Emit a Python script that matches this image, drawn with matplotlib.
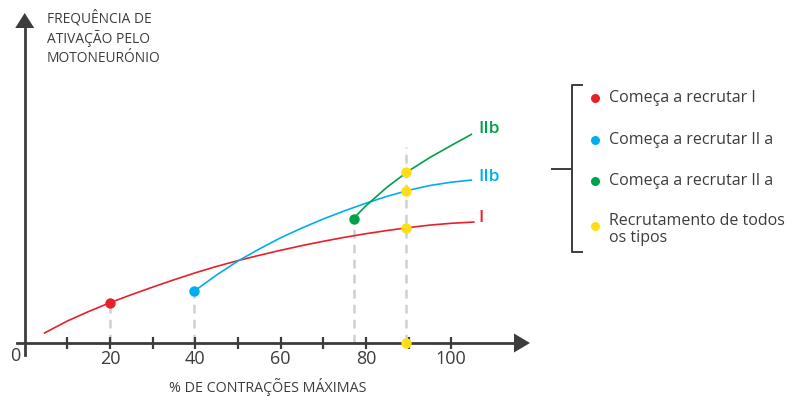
import matplotlib
matplotlib.use("Agg")
import matplotlib.pyplot as plt

plt.rcParams['font.family'] = ['Open Sans', 'DejaVu Sans']

# ---- data ----
red_x = [4.5, 10, 15, 20, 25, 30, 35, 40, 45, 50, 55, 60, 65, 70, 75, 80, 85, 90, 95, 100, 105.5]
red_y = [0.97, 2.2, 3.15, 4.03, 4.83, 5.59, 6.32, 7.02, 7.66, 8.24, 8.77, 9.27, 9.74, 10.17,
         10.57, 10.93, 11.25, 11.54, 11.79, 11.97, 12.1]
blue_x = [39.8, 45, 50, 55, 60, 65, 70, 75, 80, 85, 90, 95, 100, 104.9]
blue_y = [5.2, 6.8, 8.2, 9.4, 10.52, 11.5, 12.4, 13.22, 13.98, 14.67, 15.27, 15.75, 16.08, 16.3]
green_x = [77.1, 80, 85, 90, 95, 100, 104.9]
green_y = [12.45, 13.72, 15.6, 17.2, 18.55, 19.75, 20.9]

start_red = (20, 4.03)
start_blue = (39.8, 5.2)
start_green = (77.1, 12.45)
all_x = 89.5
all_y = [17.05, 15.24, 11.5, 0.0]
guide_top_all = 19.6

xticks = [10, 20, 30, 40, 50, 60, 70, 80, 90, 100]
xticklabels = ['', '20', '', '40', '', '60', '', '80', '', '100']

legend_labels = ['Começa a recrutar I', 'Começa a recrutar II a',
                 'Começa a recrutar II a', 'Recrutamento de todos\nos tipos']
curve_labels = ['IIb', 'IIb', 'I']

RED = '#e8202a'
BLUE = '#00aeef'
GREEN = '#00a14b'
YELLOW = '#ffde17'
AX = '#3c3c3c'
TXT = '#3c3c3c'
GUIDE = '#d0d0d0'

W, H = 790, 396
fig = plt.figure(figsize=(W / 100, H / 100), dpi=100)
ax = fig.add_axes([0, 0, 1, 1])
# pixel mapping: x = (px - 24.7)/4.265 ; y = (343 - py)/10
X0, XS = 24.7, 4.265
Y0, YS = 343.0, 10.0
ax.set_xlim((0 - X0) / XS, (W - X0) / XS)
ax.set_ylim((Y0 - H) / YS, (Y0 - 0) / YS)

def px(x):
    return (x - X0) / XS

def py(y):
    return (Y0 - y) / YS

# spines as axes
for s in ['top', 'right']:
    ax.spines[s].set_visible(False)
ax.spines['bottom'].set_position(('data', 0))
ax.spines['left'].set_position(('data', 0))
ax.spines['bottom'].set_bounds(px(16.5), px(518))
ax.spines['left'].set_bounds(py(355), py(20))
for s in ['bottom', 'left']:
    ax.spines[s].set_color(AX)
    ax.spines[s].set_linewidth(2.0)
ax.set_yticks([])
ax.set_xticks(xticks)
ax.set_xticklabels(xticklabels)
ax.tick_params(axis='x', direction='inout', length=8, width=1.6, color=AX,
               labelsize=13, labelcolor=TXT, pad=1)
ax.text(px(15), py(356), '0', ha='center', va='center', fontsize=13, color=TXT)

# arrow heads
ax.fill([px(530), px(514), px(514)], [0, py(333.5), py(352.5)], color=AX, lw=0, zorder=5)
ax.fill([0, px(24.7 - 9.5), px(24.7 + 9.5)], [py(13), py(28), py(28)], color=AX, lw=0, zorder=5)

# guides
gkw = dict(color=GUIDE, lw=1.8, dashes=(3.5, 2.5), zorder=1)
ax.plot([start_red[0]] * 2, [0, start_red[1]], **gkw)
ax.plot([start_blue[0]] * 2, [0, start_blue[1]], **gkw)
ax.plot([start_green[0]] * 2, [0, start_green[1]], **gkw)
ax.plot([all_x] * 2, [0, guide_top_all], **gkw)

# curves
ckw = dict(lw=1.2, zorder=3, solid_capstyle='butt', solid_joinstyle='round')
ax.plot(red_x, red_y, color=RED, **ckw)
ax.plot(blue_x, blue_y, color=BLUE, **ckw)
ax.plot(green_x, green_y, color=GREEN, **ckw)

mk = dict(ms=7.5, zorder=6, mew=0)
ax.plot(*start_red, 'o', color=RED, **mk)
ax.plot(*start_blue, 'o', color=BLUE, **mk)
ax.plot(*start_green, 'o', color=GREEN, **mk)
ax.plot([all_x] * len(all_y), all_y, 'o', color=YELLOW, ls='none', **mk)

# curve labels
lkw = dict(fontsize=12.5, fontweight='semibold', va='center', ha='left')
ax.text(px(478), py(129), curve_labels[0], color=GREEN, **lkw)
ax.text(px(478), py(177), curve_labels[1], color=BLUE, **lkw)
ax.text(px(478), py(218), curve_labels[2], color=RED, **lkw)

# axis titles
ax.text(px(47), py(10), 'FREQUÊNCIA DE\nATIVAÇÃO PELO\nMOTONEURÓNIO', ha='left', va='top',
        fontsize=9.9, color=TXT, linespacing=1.3)
ax.text(px(268), py(387), '% DE CONTRAÇÕES MÁXIMAS', ha='center', va='center',
        fontsize=10.3, color=TXT)

# legend bracket
bkw = dict(color=AX, lw=1.4, solid_capstyle='butt')
ax.plot([px(582.5), px(571.7), px(571.7), px(582.5)], [py(85), py(85), py(251.7), py(251.7)], **bkw)
ax.plot([px(551), px(571.7)], [py(169), py(169)], **bkw)

leg_colors = [RED, BLUE, GREEN, YELLOW]
leg_py = [98, 140, 181, 226]
for c, lab, yy in zip(leg_colors, legend_labels, leg_py):
    ax.plot(px(595), py(yy), 'o', color=c, ms=6.5, mew=0)
    if '\n' in lab:
        ax.text(px(609), py(213.5), lab, ha='left', va='top', fontsize=11.5, color=TXT,
                linespacing=1.05)
    else:
        ax.text(px(609), py(yy), lab, ha='left', va='center', fontsize=11.5, color=TXT)

fig.savefig('out.png', dpi=100)
